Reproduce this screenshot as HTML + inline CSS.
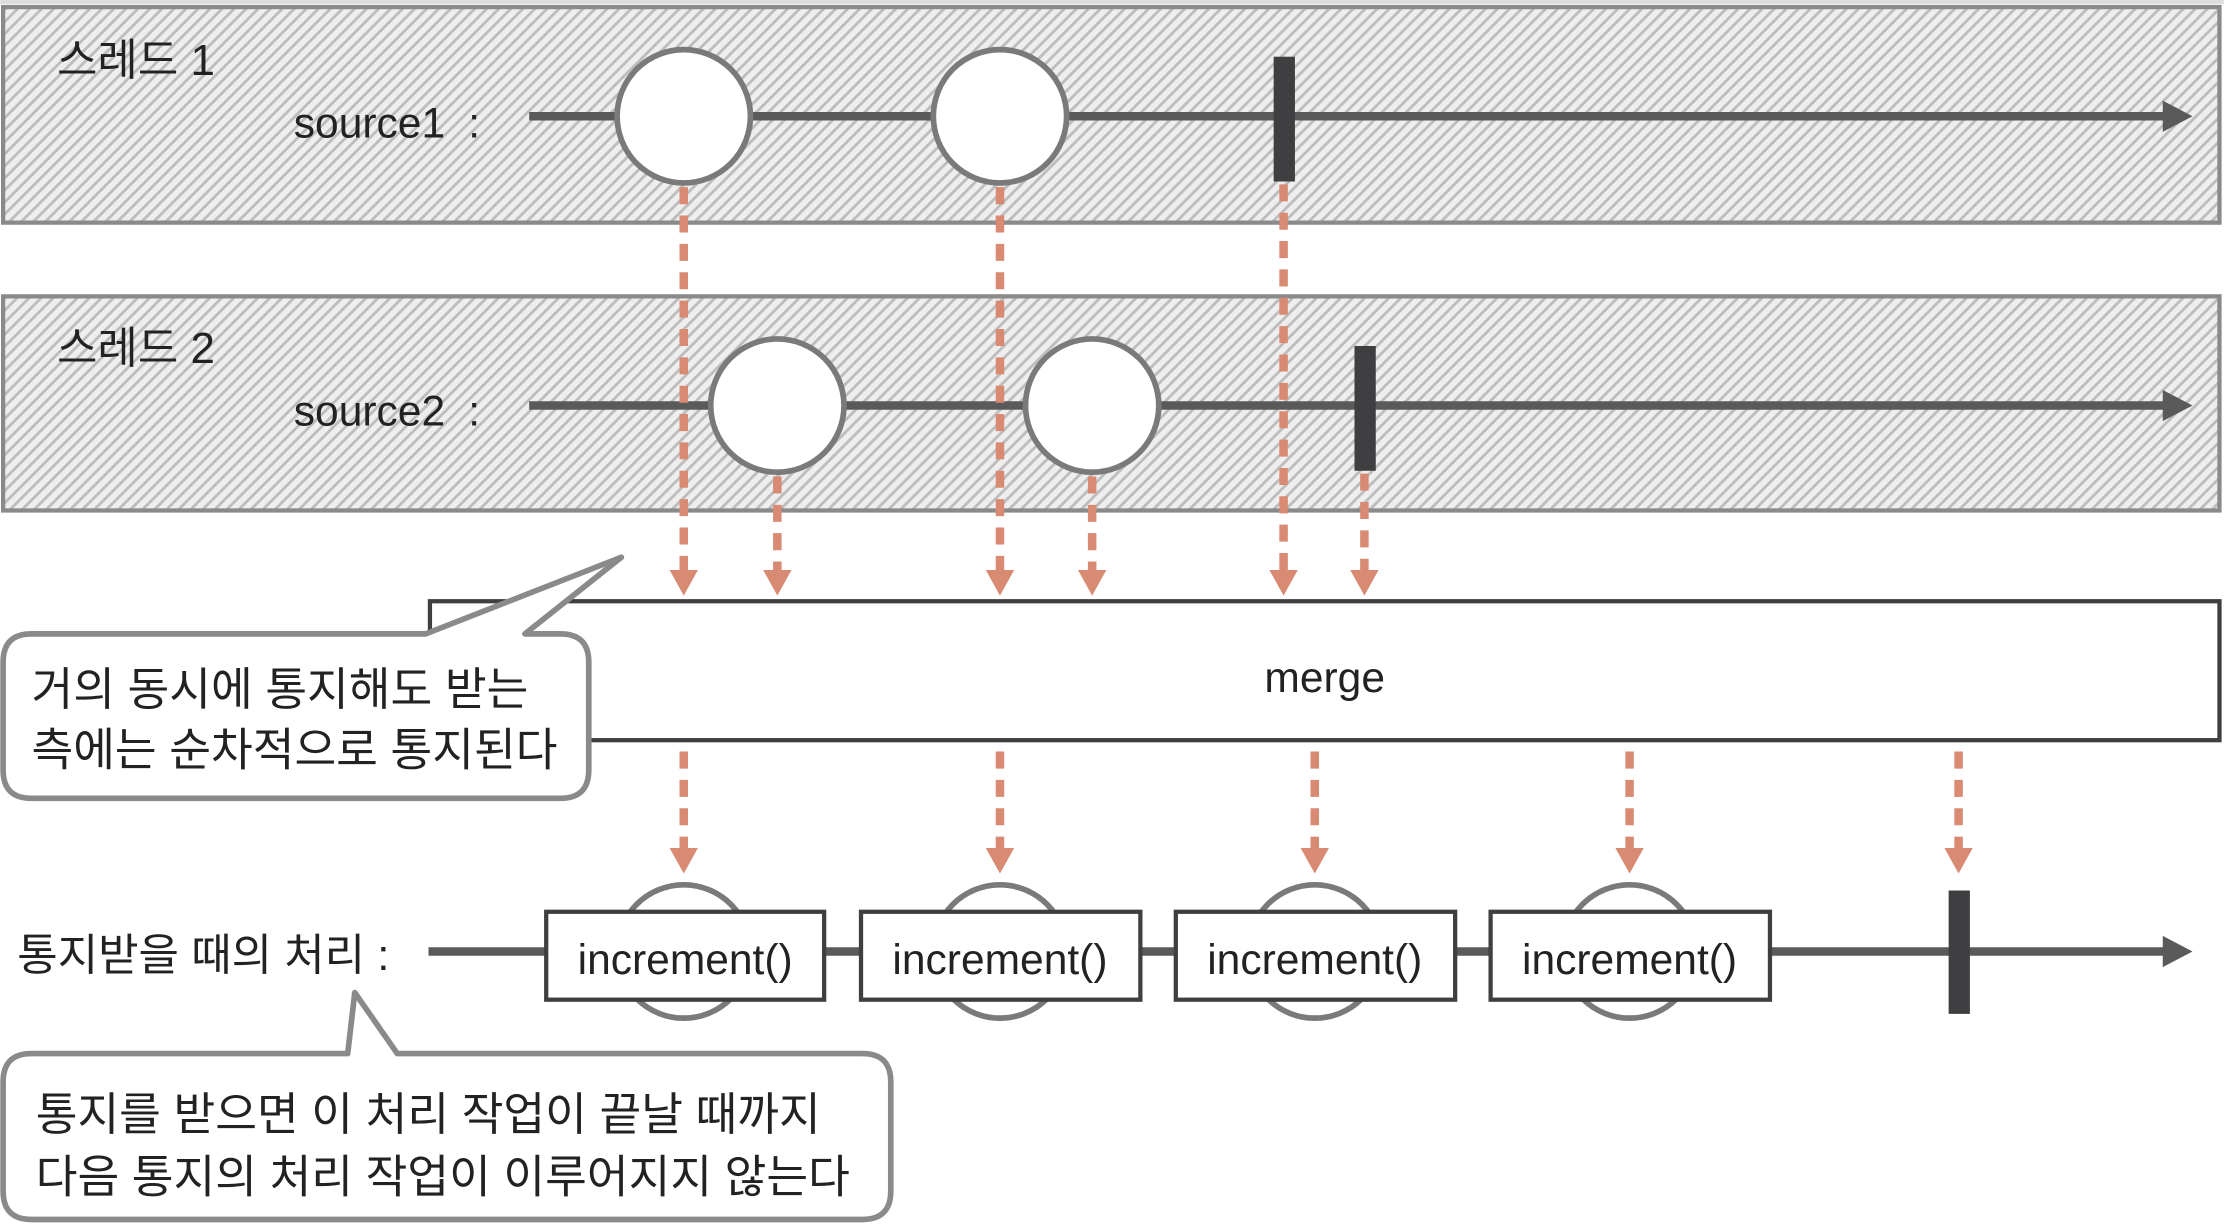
<!DOCTYPE html>
<html><head><meta charset="utf-8"><style>
html,body{margin:0;padding:0;background:#fff;}
svg{display:block;}
text{font-family:"Liberation Sans","Noto Sans CJK KR","NanumGothic",sans-serif;fill:#222;}
</style></head><body>
<svg width="2224" height="1228" viewBox="0 0 1568 866" xmlns="http://www.w3.org/2000/svg">
<defs>
<pattern id="h" width="6" height="6" patternUnits="userSpaceOnUse" patternTransform="rotate(45)">
<rect width="6" height="6" fill="#eeeeee"/>
<rect width="2" height="6" fill="#bdbdbd"/>
</pattern>
</defs>
<rect x="0" y="0" width="1568" height="3" fill="#ddd"/>
<rect x="2" y="5" width="1563" height="152" fill="url(#h)" stroke="#8a8a8a" stroke-width="3"/>
<rect x="2" y="209" width="1563" height="151" fill="url(#h)" stroke="#8a8a8a" stroke-width="3"/>
<text x="40" y="53" font-size="31">스레드 1</text>
<text x="207" y="97" font-size="30">source1 <tspan dx="8">:</tspan></text>
<text x="40" y="256" font-size="31">스레드 2</text>
<text x="207" y="300" font-size="30">source2 <tspan dx="8">:</tspan></text>
<g stroke="#5a5a5a" stroke-width="6">
<line x1="373" y1="82" x2="1530" y2="82"/>
<line x1="373" y1="286" x2="1530" y2="286"/>
<line x1="302" y1="671" x2="1530" y2="671"/>
</g>
<g fill="#5a5a5a">
<path d="M1525,71 L1546,82 L1525,93 Z"/>
<path d="M1525,275 L1546,286 L1525,297 Z"/>
<path d="M1525,660 L1546,671 L1525,682 Z"/>
</g>
<g stroke="#d88a72" stroke-width="6" stroke-dasharray="12,8">
<line x1="482" y1="132" x2="482" y2="404"/>
<line x1="705" y1="132" x2="705" y2="404"/>
<line x1="905" y1="130" x2="905" y2="404"/>
<line x1="548" y1="336" x2="548" y2="404"/>
<line x1="770" y1="336" x2="770" y2="404"/>
<line x1="962" y1="334" x2="962" y2="404"/>
<line x1="482" y1="530" x2="482" y2="600"/>
<line x1="705" y1="530" x2="705" y2="600"/>
<line x1="927" y1="530" x2="927" y2="600"/>
<line x1="1149" y1="530" x2="1149" y2="600"/>
<line x1="1381" y1="530" x2="1381" y2="600"/>
</g>
<g fill="#d88a72">
<path d="M472,402 L492,402 L482,420 Z"/><path d="M695,402 L715,402 L705,420 Z"/>
<path d="M895,402 L915,402 L905,420 Z"/><path d="M538,402 L558,402 L548,420 Z"/>
<path d="M760,402 L780,402 L770,420 Z"/><path d="M952,402 L972,402 L962,420 Z"/>
<path d="M472,598 L492,598 L482,616 Z"/><path d="M695,598 L715,598 L705,616 Z"/>
<path d="M917,598 L937,598 L927,616 Z"/><path d="M1139,598 L1159,598 L1149,616 Z"/>
<path d="M1371,598 L1391,598 L1381,616 Z"/>
</g>
<g fill="#fff" stroke="#7a7a7a" stroke-width="4">
<circle cx="482" cy="82" r="47"/><circle cx="705" cy="82" r="47"/>
<circle cx="548" cy="286" r="47"/><circle cx="770" cy="286" r="47"/>
<circle cx="482" cy="671" r="47"/><circle cx="705" cy="671" r="47"/>
<circle cx="927" cy="671" r="47"/><circle cx="1149" cy="671" r="47"/>
</g>
<g fill="#3f3f42">
<rect x="898" y="40" width="15" height="88"/>
<rect x="955" y="244" width="15" height="88"/>
<rect x="1374" y="628" width="15" height="87"/>
</g>
<rect x="303" y="424" width="1262" height="98" fill="#fff" stroke="#3f3f42" stroke-width="3"/>
<text x="934" y="488" font-size="30" text-anchor="middle">merge</text>
<g fill="#fff" stroke="#3f3f42" stroke-width="3">
<rect x="385" y="643" width="196" height="62"/>
<rect x="607" y="643" width="197" height="62"/>
<rect x="829" y="643" width="197" height="62"/>
<rect x="1051" y="643" width="197" height="62"/>
</g>
<g font-size="30" text-anchor="middle">
<text x="483" y="687">increment()</text>
<text x="705" y="687">increment()</text>
<text x="927" y="687">increment()</text>
<text x="1149" y="687">increment()</text>
</g>
<text x="12" y="684" font-size="31">통지받을 때의 처리 :</text>
<path d="M22,447 L300,447 L438,393 L370,447 L395,447 Q415,447 415,467 L415,543 Q415,563 395,563 L22,563 Q2,563 2,543 L2,467 Q2,447 22,447 Z" fill="#fff" stroke="#8a8a8a" stroke-width="4" stroke-linejoin="round"/>
<text x="22" y="497" font-size="32">거의 동시에 통지해도 받는</text>
<text x="22" y="540" font-size="32">측에는 순차적으로 통지된다</text>
<path d="M22,743 L245,743 L250,700 L280,743 L608,743 Q628,743 628,763 L628,840 Q628,860 608,860 L22,860 Q2,860 2,840 L2,763 Q2,743 22,743 Z" fill="#fff" stroke="#8a8a8a" stroke-width="4" stroke-linejoin="round"/>
<text x="25" y="797" font-size="32">통지를 받으면 이 처리 작업이 끝날 때까지</text>
<text x="25" y="841" font-size="32">다음 통지의 처리 작업이 이루어지지 않는다</text>
</svg>
</body></html>
